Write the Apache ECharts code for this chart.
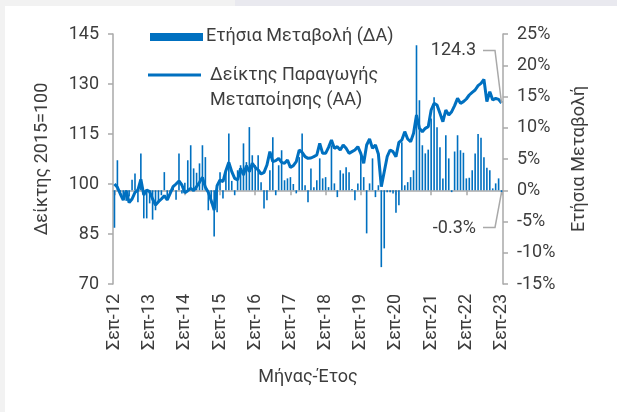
<!DOCTYPE html>
<html><head><meta charset="utf-8">
<script src="https://cdn.jsdelivr.net/npm/echarts@6/dist/echarts.min.js"></script>
<style>html,body{margin:0;padding:0;background:#f2f2f2;}#c{position:absolute;left:0;top:0;width:617px;height:412px;}</style>
</head><body><div id="c"></div>
<script>
// ---- data ----
const monthNames = ['Ιαν','Φεβ','Μαρ','Απρ','Μαϊ','Ιουν','Ιουλ','Αυγ','Σεπ','Οκτ','Νοε','Δεκ'];
const startMonthIndex = 8;   // Σεπ
const startYear2 = 12;       // 2012
const monthCount = 133;      // Σεπ-12 ... Σεπ-23
const categories = [];
for (let i = 0; i < monthCount; i++) {
  const m = (startMonthIndex + i) % 12;
  const y = startYear2 + Math.floor((startMonthIndex + i) / 12);
  categories.push(monthNames[m] + '-' + String(y).padStart(2, '0'));
}
// Δείκτης Παραγωγής Μεταποίησης (2015=100), left axis
const indexValues = [
  100, 99, 97, 95.2, 98, 94.4, 95.5, 97.5, 98.2, 101.4,
  96.7, 98.2, 97.7, 95.5, 93.7, 94.7, 95.5, 96.5, 95.2, 97.2,
  99.2, 100, 100.9, 99.7, 97.4, 98, 98.7, 98, 99.2, 100.5,
  102, 99, 97.5, 95, 92.2, 99.5, 101.2, 100.7, 104, 106.5,
  103.7, 101.7, 101.2, 104.7, 102.7, 105.5, 103.7, 106.2, 105, 104.2,
  103, 103.5, 105.7, 109.7, 106.7, 107, 107.7, 106.5, 106.2, 107.2,
  105, 105.5, 106.7, 110.2, 109.5, 108.2, 107.7, 107.8, 108.2, 108.7,
  112.2, 109.2, 109.2, 111, 113.2, 110.7, 111.2, 110.2, 111.7, 110.7,
  109.2, 109.7, 110.2, 111.2, 109.2, 106.2, 111.7, 113.5, 110.7, 111.7,
  109, 99.2, 103.7, 108.2, 110.2, 109.7, 108.2, 112.5, 113.2, 115.7,
  113.5, 112.7, 115.2, 120.7, 116.7, 115.7, 116.7, 117.2, 122.2, 124.2,
  123.7, 121.2, 118.7, 122.2, 120.7, 121.7, 123.5, 125.7, 124.2, 124.7,
  125.5, 126.7, 127.5, 128.2, 129.5, 130.2, 131.4, 124.7, 127.7, 125.2,
  125.7, 125.4, 124.3
];
// Ετήσια Μεταβολή (%), right axis
const yoyChange = [
  -6.0, 4.8, -0.5, -1.5, -1.7, -1.0, 1.7, 2.7, -1.9, 5.9,
  -4.5, -4.5, -2.1, -4.7, -3.2, -2.0, -0.8, 2.9, -1.6, -0.4,
  0.5, -1.5, 5.9, -0.5, 1.2, 4.8, 7.2, 3.5, 2.8, 4.3,
  7.2, 5.3, -3.2, -2.1, -7.4, -3.5, 2.9, -1.3, 2.9, 9.1,
  1.5, -0.8, 3.2, 4.0, 7.5, 4.5, 10.1, 5.6, 4.0, 5.6,
  1.3, -2.9, -1.6, 3.2, 8.5, -0.8, 4.0, 6.4, 1.6, 1.9,
  2.1, 1.0, -0.5, 5.3, 9.1, 0.8, -1.9, 3.5, 0.5, 1.6,
  5.1, 1.9, 2.1, 0.5, 7.2, 1.1, -1.1, 3.2, 2.7, 3.7,
  2.9, 0.2, -1.6, 1.1, 5.6, 2.1, -6.9, 1.1, 5.1, -1.1,
  0.8, -12.3, -9.3, -0.3, -0.3, -0.5, -3.6, -2.4, 7.7, 0.8,
  1.3, 2.1, 3.2, 23.2, 14.4, 7.2, 5.9, 6.5, 11.5, 14.9,
  10.1, 6.9, 1.9, 8.8, 5.1, -0.3, 6.2, 8.8, 6.4, 6.0,
  1.9, 2.0, 3.2, 5.9, 9.0, 8.4, 5.3, 3.6, 3.2, 0.3,
  1.1, 1.9, -0.3
];
const leftAxisTicks = { min: 70, max: 145, interval: 15 };
const rightAxisTicks = { min: -15, max: 25, interval: 5 };
const seriesNames = ['Ετήσια Μεταβολή (ΔΑ)', 'Δείκτης Παραγωγής Μεταποίησης (ΑΑ)'];

// ---- chart ----
const BLUE = '#0070C0';
const AXIS = '#a9a9a9';
const TXT = '#3d3d3d';
const FONT = 'Roboto';
const chart = echarts.init(document.getElementById('c'), null, { renderer: 'canvas' });
const lastIdx = monthCount - 1;

chart.setOption({
  backgroundColor: 'transparent',
  animation: false,
  textStyle: { fontFamily: FONT, color: TXT },
  grid: { left: 113, right: 114, top: 34, bottom: 128, containLabel: false },
  xAxis: {
    type: 'category', data: categories, boundaryGap: true,
    name: 'Μήνας-Έτος', nameLocation: 'middle', nameGap: 84,
    nameTextStyle: { fontSize: 18, color: TXT, fontFamily: FONT },
    axisLine: { show: true, lineStyle: { color: AXIS, width: 1.5 } },
    axisTick: { show: true, interval: 11, alignWithLabel: true, length: 5, lineStyle: { color: AXIS, width: 1.5 } },
    axisLabel: { interval: 11, rotate: 90, fontSize: 18, color: TXT, fontFamily: FONT, margin: 10 },
    splitLine: { show: false }
  },
  yAxis: [{
    type: 'value', position: 'left', min: leftAxisTicks.min, max: leftAxisTicks.max, interval: leftAxisTicks.interval,
    name: 'Δείκτης 2015=100', nameLocation: 'middle', nameGap: 62, nameRotate: 90,
    nameTextStyle: { fontSize: 18, color: TXT, fontFamily: FONT },
    axisLine: { show: true, lineStyle: { color: AXIS, width: 1.5 } },
    axisTick: { show: true, length: 5, lineStyle: { color: AXIS, width: 1.5 } },
    axisLabel: { fontSize: 18, color: TXT, fontFamily: FONT, margin: 14 },
    splitLine: { show: false }
  }, {
    type: 'value', position: 'right', min: rightAxisTicks.min, max: rightAxisTicks.max, interval: rightAxisTicks.interval,
    name: 'Ετήσια Μεταβολή', nameLocation: 'middle', nameGap: 67, nameRotate: 90,
    nameTextStyle: { fontSize: 18, color: TXT, fontFamily: FONT },
    axisLine: { show: true, lineStyle: { color: AXIS, width: 1.5 } },
    axisTick: { show: true, length: 5, lineStyle: { color: AXIS, width: 1.5 } },
    axisLabel: { fontSize: 18, color: TXT, fontFamily: FONT, margin: 14, formatter: '{value}%' },
    splitLine: { show: false }
  }],
  series: [{
    name: seriesNames[0], type: 'bar', yAxisIndex: 1, data: yoyChange,
    barWidth: '55%', itemStyle: { color: BLUE }, z: 2
  }, {
    name: seriesNames[1], type: 'line', yAxisIndex: 0, data: indexValues,
    showSymbol: false, symbol: 'none', lineStyle: { color: BLUE, width: 3 }, itemStyle: { color: BLUE }, z: 3
  }]
});

// annotations anchored to the last data point, plus legend and page frame
const pLine = chart.convertToPixel({ xAxisIndex: 0, yAxisIndex: 0 }, [lastIdx, indexValues[lastIdx]]);
const pBar = chart.convertToPixel({ xAxisIndex: 0, yAxisIndex: 1 }, [lastIdx, yoyChange[lastIdx]]);
const txt = (x, y, s, align) => ({
  type: 'text', x: x, y: y, z: 10,
  style: { text: s, fontFamily: FONT, fontSize: 18, fill: TXT, align: align || 'left', verticalAlign: 'middle' }
});
chart.setOption({
  graphic: [
    { type: 'rect', z: -10, shape: { x: 5, y: 6, width: 612, height: 406 }, style: { fill: '#ffffff' } },
    { type: 'rect', z: -9, shape: { x: 235, y: 0, width: 382, height: 6 }, style: { fill: '#e9e9ef' } },
    // legend
    { type: 'rect', z: 10, shape: { x: 150, y: 33, width: 53, height: 8 }, style: { fill: BLUE } },
    txt(206, 36, 'Ετήσια Μεταβολή (ΔΑ)'),
    { type: 'line', z: 10, shape: { x1: 148, y1: 75, x2: 201, y2: 75 }, style: { stroke: BLUE, lineWidth: 3 } },
    txt(210, 75, 'Δείκτης Παραγωγής'),
    txt(210, 100, 'Μεταποίησης (ΑΑ)'),
    // callouts
    { type: 'polyline', z: 10, shape: { points: [[483, 50.5], [495, 50.5], [pLine[0], pLine[1]]] }, style: { stroke: AXIS, lineWidth: 1.5, fill: null } },
    txt(476, 50, indexValues[lastIdx].toFixed(1), 'right'),
    { type: 'polyline', z: 10, shape: { points: [[483, 227.5], [495, 227.5], [pBar[0], pBar[1]]] }, style: { stroke: AXIS, lineWidth: 1.5, fill: null } },
    txt(476, 228, yoyChange[lastIdx].toFixed(1) + '%', 'right')
  ]
});
</script></body></html>
